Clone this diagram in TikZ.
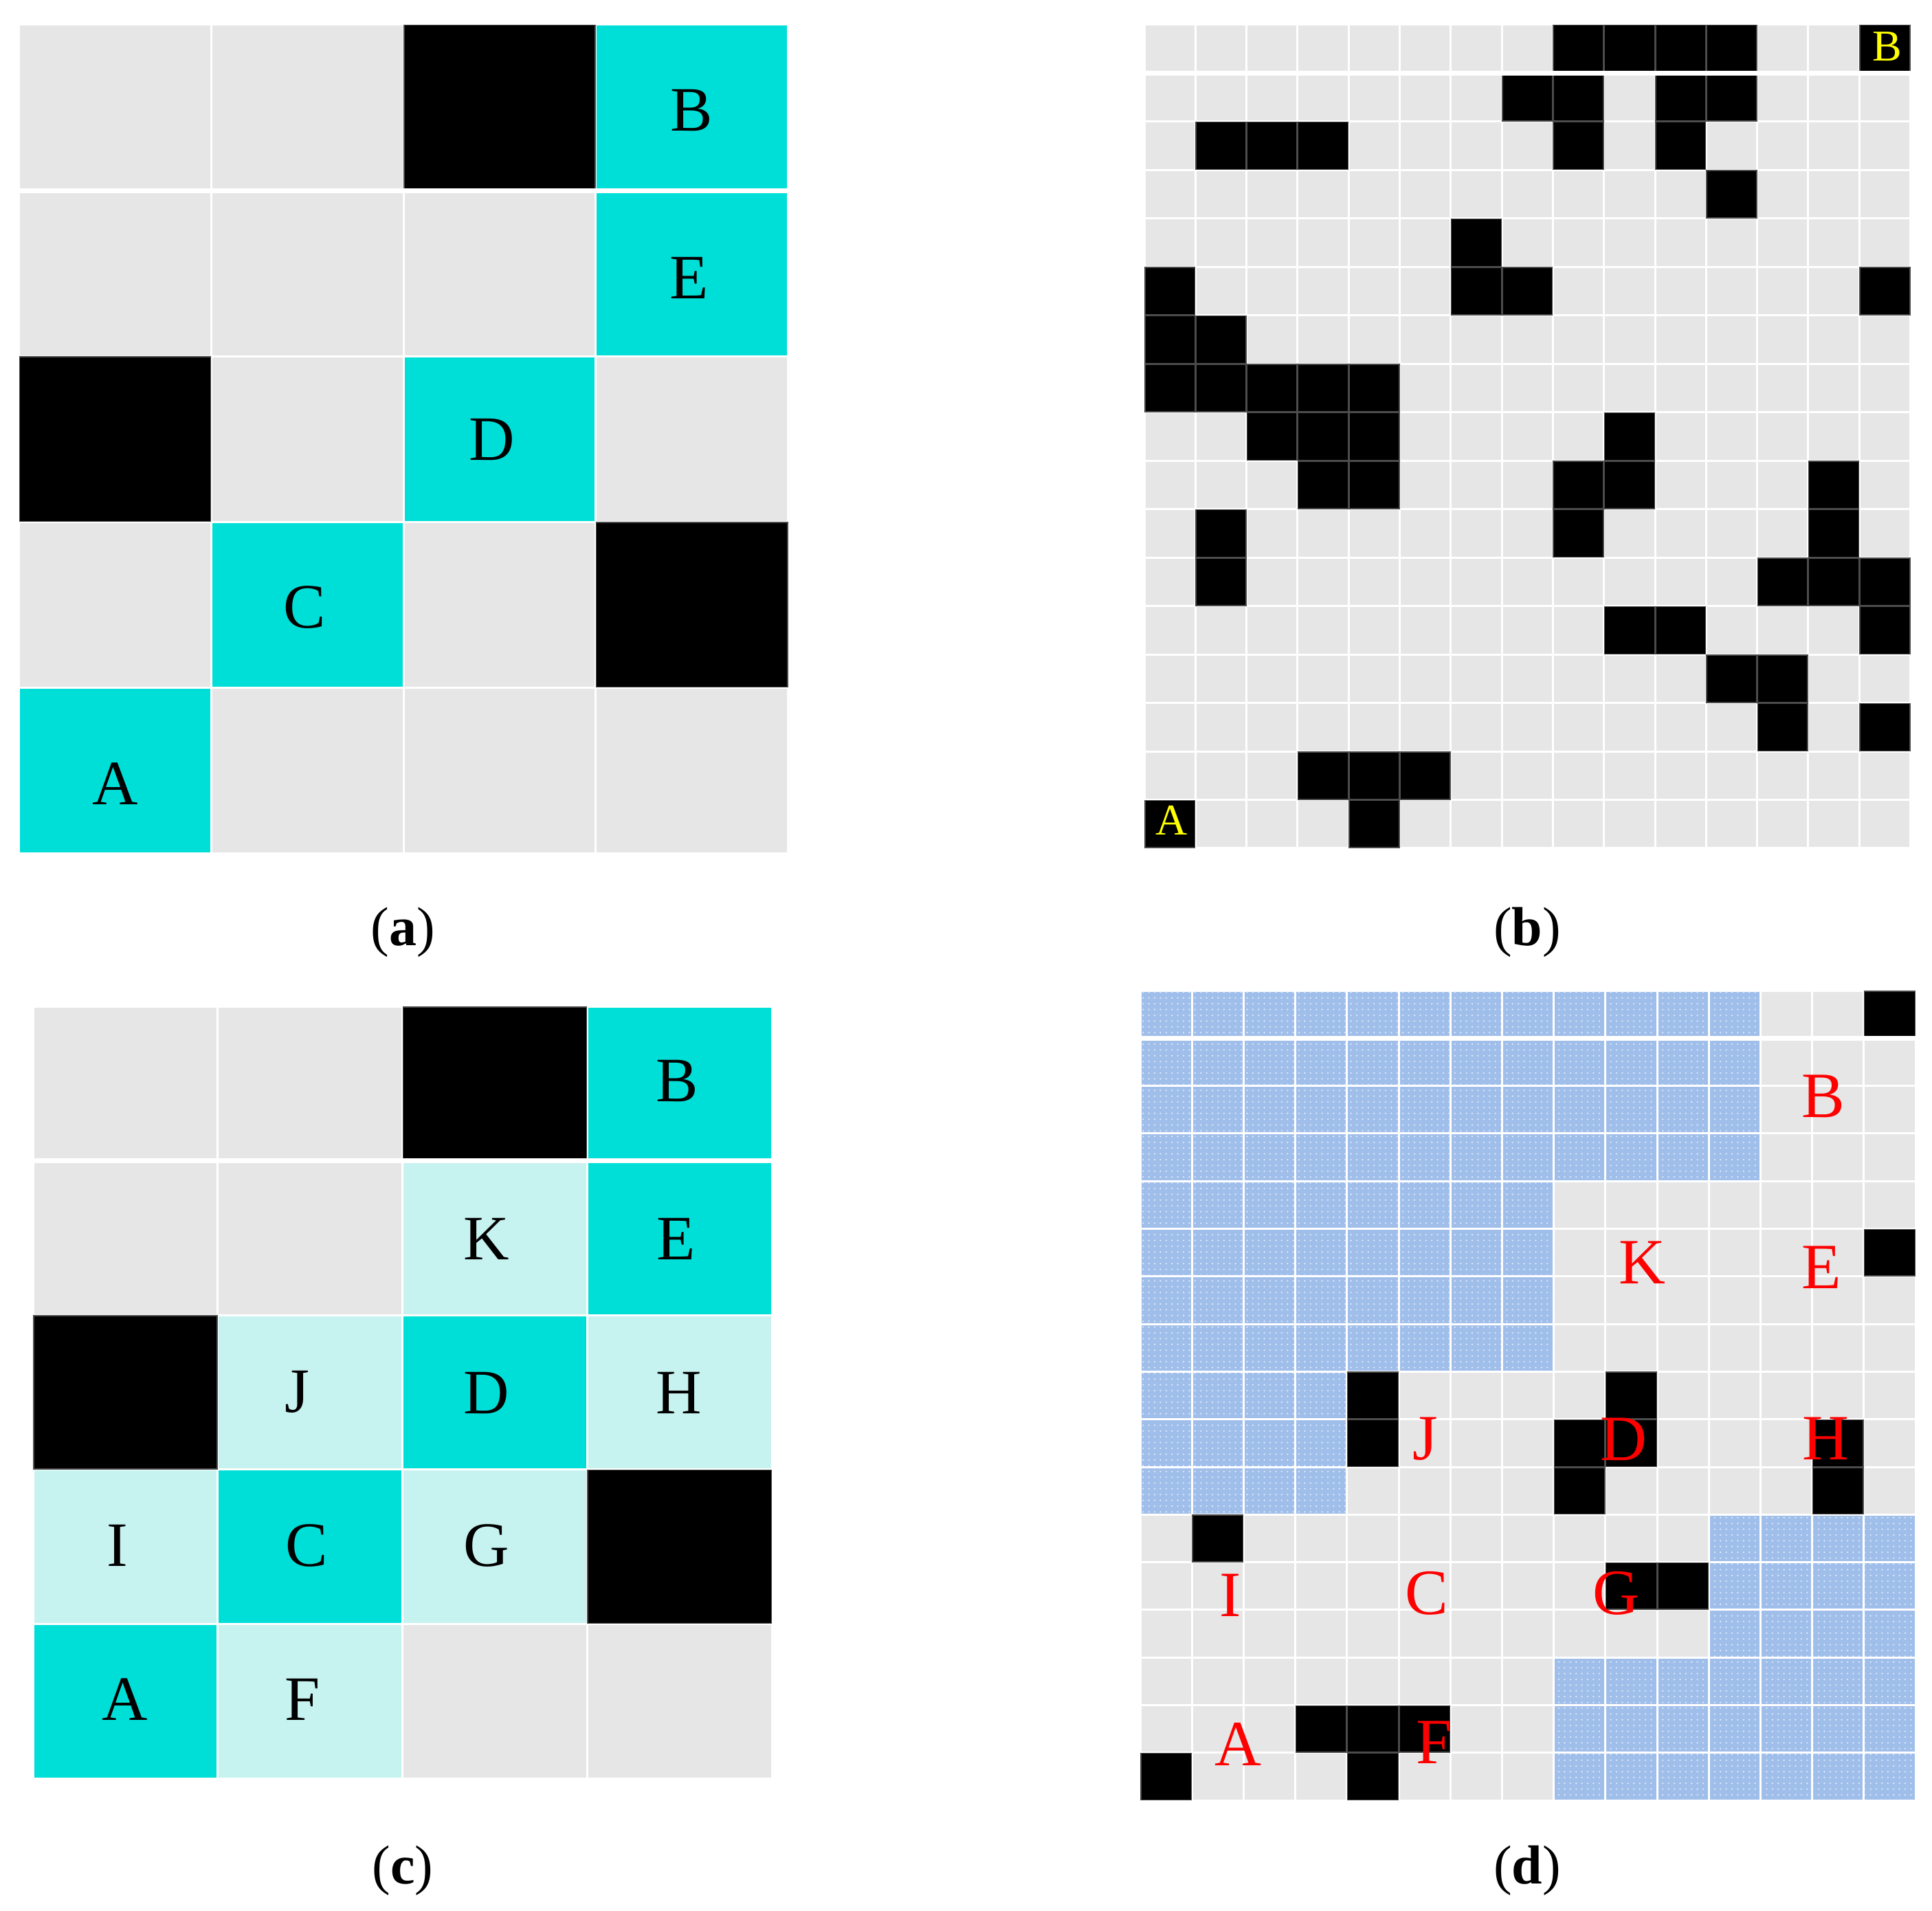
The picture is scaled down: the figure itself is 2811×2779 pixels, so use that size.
\documentclass[tikz,border=0pt]{standalone}
\usepackage{fontspec}
\setmainfont{Liberation Serif}
\usetikzlibrary{patterns.meta}
\definecolor{cellgrey}{HTML}{E6E6E6}
\definecolor{cyanA}{HTML}{00DFD7}
\definecolor{cyanL}{HTML}{C6F2F0}
\definecolor{blueP}{HTML}{A0BEEA}
\definecolor{dotP}{HTML}{DCE8F8}
\definecolor{labred}{HTML}{FF0000}
\definecolor{labyel}{HTML}{FFFF00}
\newcommand\gapw{0.375pt}
\newcommand\cellbox[3]{\fill[#3] ([xshift=\gapw,yshift=-\gapw]#1,#2) rectangle ([xshift=-\gapw,yshift=\gapw]#1+1,#2+1);}
\newcommand\blackcell[2]{\fill[black!70] (#1,#2) rectangle (#1+1,#2+1);\cellbox{#1}{#2}{black}}
\newcommand\bluecell[2]{\fill[blueP,postaction={pattern={Dots[distance=2.1pt,radius=0.33pt]},pattern color=dotP}] ([xshift=\gapw,yshift=-\gapw]#1,#2) rectangle ([xshift=-\gapw,yshift=\gapw]#1+1,#2+1);}
\tikzset{
  panela/.style={shift={(6.875pt,-9pt)},x=69.9375pt,y=-60.275pt},
  panelb/.style={shift={(416.25pt,-9pt)},x=18.575pt,y=-17.6175pt},
  panelc/.style={shift={(12pt,-366pt)},x=67.1875pt,y=-56.15pt},
  paneld/.style={shift={(414.75pt,-360.25pt)},x=18.8pt,y=-17.325pt},
  thickgap/.style={white,line width=1.75pt},
  lab/.style={inner sep=0pt,font=\fontsize{23}{27}\selectfont},
  redlab/.style={inner sep=0pt,text=labred,font=\fontsize{23.5}{27}\selectfont},
  yellab/.style={inner sep=0pt,text=labyel,font=\fontsize{16}{19}\selectfont},
  captext/.style={anchor=base,inner sep=0pt,font=\fontsize{20}{24}\selectfont},
}
\begin{document}
\begin{tikzpicture}[x=0.25pt,y=-0.25pt]
\fill[white] (0,0) rectangle (2811,2779);
\useasboundingbox (0,0) rectangle (2811,2779);

% ---------- panel (a)
\begin{scope}[panela]
  \foreach \c in {0,...,3} \foreach \r in {0,...,4} {\cellbox{\c}{\r}{cellgrey}}
  \foreach \c/\r in {3/0,3/1,2/2,1/3,0/4} {\cellbox{\c}{\r}{cyanA}}
  \foreach \c/\r in {2/0,0/2,3/3} {\blackcell{\c}{\r}}
  \draw[thickgap] (0,1) -- (4,1);
\end{scope}

% ---------- panel (b)
\begin{scope}[panelb]
  \foreach \c in {0,...,14} \foreach \r in {0,...,16} {\cellbox{\c}{\r}{cellgrey}}
  \foreach \c/\r in {8/0,9/0,10/0,11/0,14/0,
                     7/1,8/1,10/1,11/1,
                     1/2,2/2,3/2,8/2,10/2,
                     11/3, 6/4, 0/5,6/5,7/5,14/5,
                     0/6,1/6, 0/7,1/7,2/7,3/7,4/7,
                     2/8,3/8,4/8,9/8,
                     3/9,4/9,8/9,9/9,13/9,
                     1/10,8/10,13/10,
                     1/11,12/11,13/11,14/11,
                     9/12,10/12,14/12,
                     11/13,12/13, 12/14,14/14,
                     3/15,4/15,5/15, 0/16,4/16} {\blackcell{\c}{\r}}
  \draw[thickgap] (0,1) -- (15,1);
\end{scope}

% ---------- panel (c)
\begin{scope}[panelc]
  \foreach \c in {0,...,3} \foreach \r in {0,...,4} {\cellbox{\c}{\r}{cellgrey}}
  \foreach \c/\r in {3/0,3/1,2/2,1/3,0/4} {\cellbox{\c}{\r}{cyanA}}
  \foreach \c/\r in {2/1,1/2,3/2,0/3,2/3,1/4} {\cellbox{\c}{\r}{cyanL}}
  \foreach \c/\r in {2/0,0/2,3/3} {\blackcell{\c}{\r}}
  \draw[thickgap] (0,1) -- (4,1);
\end{scope}

% ---------- panel (d)
\begin{scope}[paneld]
  \foreach \c in {0,...,14} \foreach \r in {0,...,16} {\cellbox{\c}{\r}{cellgrey}}
  \foreach \r in {0,...,3} \foreach \c in {0,...,11} {\bluecell{\c}{\r}}
  \foreach \r in {4,...,7} \foreach \c in {0,...,7} {\bluecell{\c}{\r}}
  \foreach \r in {8,...,10} \foreach \c in {0,...,3} {\bluecell{\c}{\r}}
  \foreach \r in {11,...,13} \foreach \c in {11,...,14} {\bluecell{\c}{\r}}
  \foreach \r in {14,...,16} \foreach \c in {8,...,14} {\bluecell{\c}{\r}}
  \foreach \c/\r in {14/0, 14/5, 4/8,9/8, 4/9,8/9,9/9,13/9, 8/10,13/10,
                     1/11, 9/12,10/12, 3/15,4/15,5/15, 0/16,4/16} {\blackcell{\c}{\r}}
  \draw[thickgap] (0,1) -- (15,1);
\end{scope}

% ---------- labels (a)
\node[lab] (aB) at (1006,161) {B};
\node[lab] (aE) at (1003,404) {E};
\node[lab] (aD) at (716,639) {D};
\node[lab] (aC) at (443,883) {C};
\node[lab] (aA) at (168,1140) {A};

% ---------- labels (b)
\node[yellab] (bB) at (2746,68) {B};
\node[yellab] (bA) at (1705,1193) {A};

% ---------- labels (c)
\node[lab] (cB) at (985,1573) {B};
\node[lab] (cK) at (708,1802) {K};
\node[lab] (cE) at (984,1802) {E};
\node[lab] (cJ) at (432,2025) {J};
\node[lab] (cD) at (708,2026) {D};
\node[lab] (cH) at (988,2026) {H};
\node[lab] (cI) at (171,2248) {I};
\node[lab] (cC) at (446,2248) {C};
\node[lab] (cG) at (708,2248) {G};
\node[lab] (cA) at (182,2472) {A};
\node[lab] (cF) at (440,2472) {F};

% ---------- labels (d)
\node[redlab] (dB) at (2653,1595) {B};
\node[redlab] (dK) at (2389,1837) {K};
\node[redlab] (dE) at (2650,1844) {E};
\node[redlab] (dJ) at (2074,2093) {J};
\node[redlab] (dD) at (2362,2094) {D};
\node[redlab] (dH) at (2656,2093) {H};
\node[redlab] (dI) at (1790,2321) {I};
\node[redlab] (dC) at (2076,2318) {C};
\node[redlab] (dG) at (2351,2318) {G};
\node[redlab] (dA) at (1801,2537) {A};
\node[redlab] (dF) at (2087,2535) {F};

% ---------- captions
\node[captext] (capa) at (586,1375) {(\textbf{a})};
\node[captext] (capb) at (2222,1375) {(\textbf{b})};
\node[captext] (capc) at (586,2740) {(\textbf{c})};
\node[captext] (capd) at (2222,2740) {(\textbf{d})};
\end{tikzpicture}
\end{document}
